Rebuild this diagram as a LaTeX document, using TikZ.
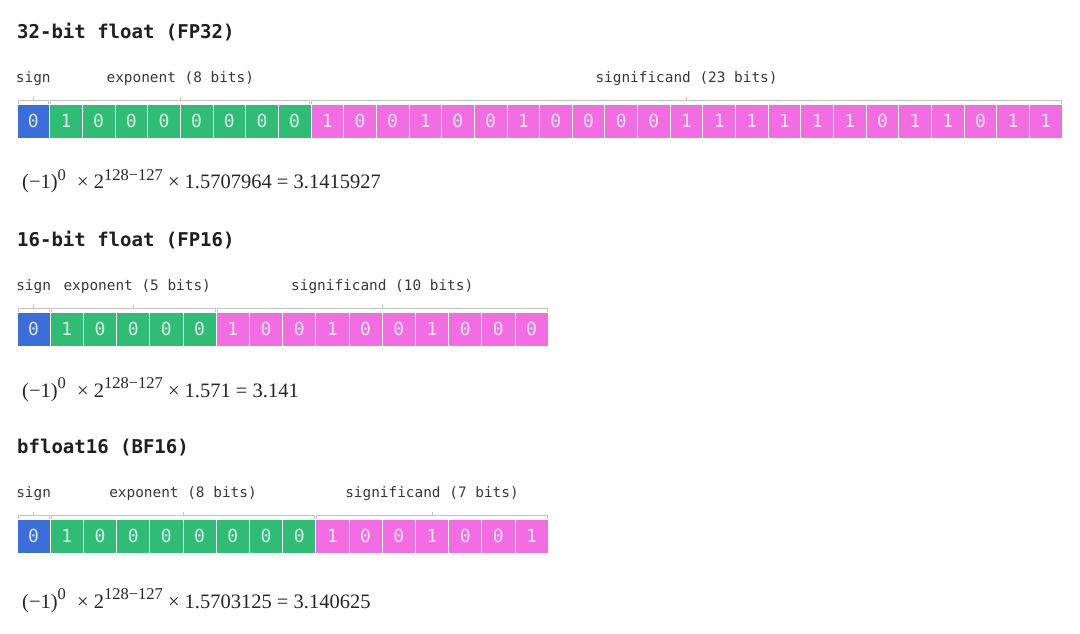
\documentclass[tikz,border=0pt]{standalone}
\usepackage{fontspec}
\setmonofont{DejaVu Sans Mono}
\newfontfamily\formfont{Liberation Serif}
\usepackage{tikz}
\usetikzlibrary{positioning, calc}
\usepackage{xcolor}

\definecolor{signblue}{HTML}{3A6FD9}
\definecolor{expgreen}{HTML}{2FBC74}
\definecolor{manpink}{HTML}{F26DE4}
\definecolor{brkgray}{HTML}{C4C4C4}

% raised exponent in the formulas
\newcommand{\powr}[1]{\raisebox{0.4em}{\fontsize{16.5}{17}\selectfont #1}}

\begin{document}
\begin{tikzpicture}[
    x=1pt, y=-1pt,
    node distance=5mm,
    title/.style={anchor=base west, inner sep=0pt, text=black!88, font=\fontsize{19}{22}\selectfont\ttfamily\bfseries},
    lbl/.style={inner sep=0pt, text=black!78, font=\fontsize{14.4}{16}\selectfont\ttfamily},
    bit/.style={anchor=north west, inner sep=0pt, outer sep=0pt, minimum height=34pt, draw=white, line width=0.8pt, text=white, text opacity=0.82, font=\fontsize{18}{20}\selectfont\ttfamily},
    sgn/.style={bit, fill=signblue},
    ex/.style={bit, fill=expgreen},
    man/.style={bit, fill=manpink},
    brk/.style={draw=brkgray, line width=0.9pt},
    formula/.style={anchor=base west, inner sep=0pt, text=black!85, font=\fontsize{20.5}{23}\selectfont\formfont}
]
\useasboundingbox (0,0) rectangle (1080,633);

% FP32
\node[title] (t32) at (17,38.5) {32-bit float (FP32)};
\node[sgn, minimum width=32.66pt] (f32s) at (17,104) {0};
\foreach \b [count=\i] in {1,0,0,0,0,0,0,0}
  \node[ex, minimum width=32.66pt] (f32e\i) at ({17+\i*32.66},104) {\b};
\foreach \b [count=\i] in {1,0,0,1,0,0,1,0,0,0,0,1,1,1,1,1,1,0,1,1,0,1,1}
  \node[man, minimum width=32.66pt] (f32m\i) at ({17+(\i+8)*32.66},104) {\b};

% FP32 brackets
\draw[brk] ([xshift=1pt]f32s.north west) |- ([xshift=-1pt,yshift=3.5pt]f32s.north east) -- ([xshift=-1pt]f32s.north east);
\draw[brk] ([xshift=1pt]f32e1.north west) |- ([xshift=-1pt,yshift=3.5pt]f32e8.north east) -- ([xshift=-1pt]f32e8.north east);
\draw[brk] ([xshift=1pt]f32m1.north west) |- ([xshift=-1pt,yshift=3.5pt]f32m23.north east) -- ([xshift=-1pt]f32m23.north east);
\coordinate (k32s) at ($(f32s.north west)!0.5!(f32s.north east)+(0pt,7.5pt)$);
\coordinate (k32e) at ($(f32e1.north west)!0.5!(f32e8.north east)+(0pt,7.5pt)$);
\coordinate (k32m) at ($(f32m1.north west)!0.5!(f32m23.north east)+(0pt,7.5pt)$);
\draw[brk] (k32s) -- ++(0pt,-4pt);
\draw[brk] (k32e) -- ++(0pt,-4pt);
\draw[brk] (k32m) -- ++(0pt,-4pt);
\node[lbl, above=14pt of k32s, anchor=base] (l32s) {sign};
\node[lbl, above=14pt of k32e, anchor=base] (l32e) {exponent (8 bits)};
\node[lbl, above=14pt of k32m, anchor=base] (l32m) {significand (23 bits)};

\node[formula] (v32) at (22,188.5) {(−1)\powr{0}\hspace{0.55em}× 2\powr{128−127} × 1.5707964 = 3.1415927};

% FP16
\node[title] (t16) at (17,246.5) {16-bit float (FP16)};
\node[sgn, minimum width=33.2pt] (f16s) at (17,312) {0};
\foreach \b [count=\i] in {1,0,0,0,0}
  \node[ex, minimum width=33.2pt] (f16e\i) at ({17+\i*33.2},312) {\b};
\foreach \b [count=\i] in {1,0,0,1,0,0,1,0,0,0}
  \node[man, minimum width=33.2pt] (f16m\i) at ({17+(\i+5)*33.2},312) {\b};

% FP16 brackets
\draw[brk] ([xshift=1pt]f16s.north west) |- ([xshift=-1pt,yshift=3.5pt]f16s.north east) -- ([xshift=-1pt]f16s.north east);
\draw[brk] ([xshift=1pt]f16e1.north west) |- ([xshift=-1pt,yshift=3.5pt]f16e5.north east) -- ([xshift=-1pt]f16e5.north east);
\draw[brk] ([xshift=1pt]f16m1.north west) |- ([xshift=-1pt,yshift=3.5pt]f16m10.north east) -- ([xshift=-1pt]f16m10.north east);
\coordinate (k16s) at ($(f16s.north west)!0.5!(f16s.north east)+(0pt,7.5pt)$);
\coordinate (k16e) at ($(f16e1.north west)!0.5!(f16e5.north east)+(0pt,7.5pt)$);
\coordinate (k16m) at ($(f16m1.north west)!0.5!(f16m10.north east)+(0pt,7.5pt)$);
\draw[brk] (k16s) -- ++(0pt,-4pt);
\draw[brk] (k16e) -- ++(0pt,-4pt);
\draw[brk] (k16m) -- ++(0pt,-4pt);
\node[lbl, above=14pt of k16s, anchor=base] (l16s) {sign};
\node[lbl, above=14pt of k16e, anchor=base, xshift=4pt] (l16e) {exponent (5 bits)};
\node[lbl, above=14pt of k16m, anchor=base] (l16m) {significand (10 bits)};

\node[formula] (v16) at (22,397) {(−1)\powr{0}\hspace{0.55em}× 2\powr{128−127} × 1.571 = 3.141};

% BF16
\node[title] (tbf) at (17,453.5) {bfloat16 (BF16)};
\node[sgn, minimum width=33.2pt] (fbfs) at (17,519) {0};
\foreach \b [count=\i] in {1,0,0,0,0,0,0,0}
  \node[ex, minimum width=33.2pt] (fbfe\i) at ({17+\i*33.2},519) {\b};
\foreach \b [count=\i] in {1,0,0,1,0,0,1}
  \node[man, minimum width=33.2pt] (fbfm\i) at ({17+(\i+8)*33.2},519) {\b};

% BF16 brackets
\draw[brk] ([xshift=1pt]fbfs.north west) |- ([xshift=-1pt,yshift=3.5pt]fbfs.north east) -- ([xshift=-1pt]fbfs.north east);
\draw[brk] ([xshift=1pt]fbfe1.north west) |- ([xshift=-1pt,yshift=3.5pt]fbfe8.north east) -- ([xshift=-1pt]fbfe8.north east);
\draw[brk] ([xshift=1pt]fbfm1.north west) |- ([xshift=-1pt,yshift=3.5pt]fbfm7.north east) -- ([xshift=-1pt]fbfm7.north east);
\coordinate (kbfs) at ($(fbfs.north west)!0.5!(fbfs.north east)+(0pt,7.5pt)$);
\coordinate (kbfe) at ($(fbfe1.north west)!0.5!(fbfe8.north east)+(0pt,7.5pt)$);
\coordinate (kbfm) at ($(fbfm1.north west)!0.5!(fbfm7.north east)+(0pt,7.5pt)$);
\draw[brk] (kbfs) -- ++(0pt,-4pt);
\draw[brk] (kbfe) -- ++(0pt,-4pt);
\draw[brk] (kbfm) -- ++(0pt,-4pt);
\node[lbl, above=14pt of kbfs, anchor=base] (lbfs) {sign};
\node[lbl, above=14pt of kbfe, anchor=base] (lbfe) {exponent (8 bits)};
\node[lbl, above=14pt of kbfm, anchor=base] (lbfm) {significand (7 bits)};

\node[formula] (vbf) at (22,608) {(−1)\powr{0}\hspace{0.55em}× 2\powr{128−127} × 1.5703125 = 3.140625};

\end{tikzpicture}
\end{document}
